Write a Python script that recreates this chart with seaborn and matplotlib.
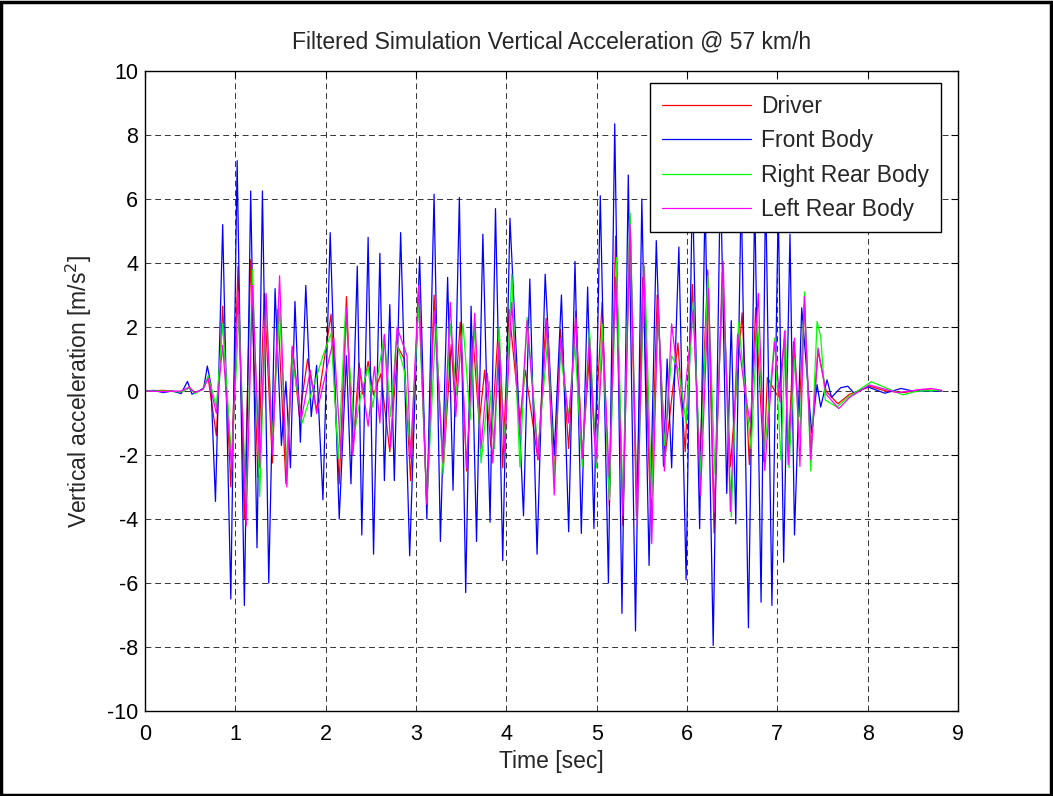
import numpy as np
import pandas as pd
import matplotlib
matplotlib.use("Agg")
import matplotlib.pyplot as plt
import seaborn as sns
from matplotlib.patches import Rectangle

# extremes (time [s], acceleration [m/s^2])
front_t = [0.00, 0.10, 0.20, 0.30, 0.40, 0.47, 0.52, 0.60, 0.65, 0.69, 0.73, 0.78, 0.86, 0.95,
           1.02, 1.10, 1.17, 1.24, 1.30, 1.37, 1.44, 1.51, 1.56, 1.61, 1.66, 1.72, 1.78, 1.84,
           1.90, 1.97, 2.05, 2.15, 2.23, 2.28, 2.35, 2.40, 2.47, 2.53, 2.60, 2.65, 2.71, 2.76,
           2.83, 2.93, 3.04, 3.12, 3.20, 3.27, 3.35, 3.41, 3.48, 3.55, 3.61, 3.67, 3.74, 3.82,
           3.88, 3.96, 4.04, 4.12, 4.19, 4.26, 4.34, 4.43, 4.53, 4.61, 4.69, 4.76, 4.83, 4.90,
           4.97, 5.04, 5.13, 5.20, 5.28, 5.35, 5.43, 5.50, 5.58, 5.66, 5.74, 5.78, 5.83, 5.91,
           5.99, 6.06, 6.14, 6.20, 6.29, 6.37, 6.44, 6.49, 6.54, 6.60, 6.68, 6.75, 6.82, 6.87,
           6.94, 7.01, 7.07, 7.14, 7.19, 7.27, 7.38, 7.44, 7.48, 7.55, 7.60, 7.70, 7.78, 7.85,
           8.00, 8.19, 8.37, 8.50, 8.82]
front_v = [0.0, 0.02, -0.05, 0.0, -0.08, 0.3, -0.1, 0.0, 0.1, 0.78, 0.2, -3.45, 5.2, -6.5,
           7.2, -6.7, 6.25, -4.9, 6.25, -6.0, 3.2, -1.7, 0.3, -2.4, 2.8, -1.6, 3.3, -0.8,
           0.8, -3.4, 4.95, -4.0, 1.1, -2.9, 3.9, -4.5, 4.8, -5.1, 4.3, -2.8, 2.7, -2.8,
           4.95, -5.15, 4.2, -4.0, 6.15, -4.7, 3.55, -3.1, 6.05, -6.3, 2.65, -4.7, 4.9, -4.1,
           5.7, -5.3, 5.4, 0.6, -3.9, 3.5, -5.1, 3.65, -2.0, 3.0, -4.4, 4.05, -4.45, 3.25,
           -4.3, 6.1, -6.0, 8.35, -6.95, 6.75, -7.5, 6.0, -5.45, 4.7, -2.35, 1.0, -2.4, 4.5,
           -5.9, 6.5, -4.3, 6.0, -7.95, 6.8, -3.2, 2.2, -4.15, 6.3, -7.4, 6.0, -6.6, 6.5,
           -6.7, 5.8, -5.35, 4.9, -4.5, 2.6, -1.3, 0.2, -0.5, 0.35, -0.2, 0.1, 0.15, -0.07,
           0.13, -0.07, 0.08, 0.0, 0.0]

driver_t = [0.00, 0.20, 0.40, 0.49, 0.55, 0.64, 0.70, 0.79, 0.86, 0.95, 1.03, 1.10, 1.17, 1.25,
            1.32, 1.41, 1.47, 1.56, 1.63, 1.71, 1.80, 1.90, 2.06, 2.15, 2.23, 2.30, 2.37, 2.41,
            2.47, 2.53, 2.61, 2.71, 2.80, 2.87, 2.94, 3.03, 3.12, 3.20, 3.30, 3.39, 3.43, 3.49,
            3.56, 3.63, 3.70, 3.76, 3.83, 3.91, 3.96, 4.03, 4.15, 4.21, 4.35, 4.44, 4.53, 4.60,
            4.69, 4.77, 4.84, 4.92, 4.98, 5.06, 5.14, 5.21, 5.29, 5.37, 5.44, 5.51, 5.60, 5.67,
            5.76, 5.90, 5.98, 6.06, 6.14, 6.23, 6.30, 6.39, 6.48, 6.61, 6.69, 6.76, 6.85, 6.89,
            7.01, 7.08, 7.12, 7.18, 7.24, 7.30, 7.37, 7.45, 7.54, 7.67, 7.80, 8.03, 8.20, 8.40,
            8.60, 8.82]
driver_v = [0.0, 0.02, -0.03, 0.1, -0.05, 0.05, 0.4, -1.4, 2.65, -3.0, 3.9, -4.0, 4.1, -2.7,
            3.05, -2.25, 2.55, -2.9, 1.37, -0.8, 1.0, -0.6, 2.4, -2.9, 2.95, -1.9, 0.87, -0.1,
            0.93, -0.13, 0.54, -1.9, 1.37, 1.0, -2.8, 3.27, -3.6, 3.0, -2.5, 1.45, -0.35, 2.15,
            -2.5, 1.7, -1.0, 0.65, -1.75, 1.9, -2.4, 2.55, -0.9, 0.65, -2.15, 2.27, -2.7, 1.93,
            -1.8, 2.5, -2.1, 1.1, -1.6, 2.77, -3.6, 4.84, -4.2, 5.45, -3.9, 3.55, -4.05, 3.0,
            -2.0, 1.5, -1.9, 3.33, -2.25, 3.78, -4.44, 3.72, -2.37, 2.44, -2.3, 2.6, -2.2, 0.42,
            -0.19, 1.65, -1.9, 1.54, -0.8, 2.7, -1.9, 1.25, 0.0, -0.4, -0.1, 0.14, 0.0, -0.05,
            0.05, 0.0]

right_rear_t = [0.00, 0.20, 0.40, 0.49, 0.55, 0.64, 0.70, 0.79, 0.86, 0.96, 1.04, 1.12, 1.19,
                1.27, 1.34, 1.41, 1.49, 1.57, 1.63, 1.74, 1.97, 2.06, 2.14, 2.22, 2.32, 2.39,
                2.47, 2.52, 2.65, 2.72, 2.78, 2.87, 2.94, 3.03, 3.12, 3.22, 3.30, 3.38, 3.45,
                3.52, 3.60, 3.65, 3.72, 3.81, 3.87, 3.92, 3.98, 4.06, 4.15, 4.23, 4.35, 4.46,
                4.53, 4.60, 4.69, 4.76, 4.84, 4.92, 5.00, 5.06, 5.14, 5.22, 5.29, 5.37, 5.45,
                5.53, 5.61, 5.68, 5.75, 5.83, 5.91, 5.99, 6.07, 6.15, 6.23, 6.31, 6.40, 6.49,
                6.57, 6.71, 6.78, 6.86, 6.97, 7.04, 7.09, 7.13, 7.19, 7.25, 7.30, 7.37, 7.44,
                7.48, 7.53, 7.66, 7.78, 8.04, 8.20, 8.39, 8.55, 8.82]
right_rear_v = [0.0, 0.0, -0.03, 0.1, -0.08, 0.05, 0.48, -0.5, 2.1, -2.2, 2.4, -3.6, 3.8,
                -3.3, 3.0, -1.6, 2.6, -2.4, 1.0, -1.0, 1.1, 1.8, -2.1, 2.5, -1.3, -0.1,
                0.75, -0.5, 1.75, -0.8, 1.55, 0.65, -2.0, 2.75, -3.5, 2.1, -2.6, 2.1, -0.13,
                2.1, -0.9, 2.1, -2.25, 0.3, -1.8, 2.0, -1.7, 3.66, -2.37, 2.3, -1.9, 1.65,
                -2.8, 1.2, -0.8, 1.43, -2.37, 1.93, -2.4, 2.1, -3.4, 4.17, -3.5, 5.56, -4.05,
                3.9, -3.37, 2.55, -1.7, 1.1, 0.65, -1.0, 2.77, -2.7, 3.6, -2.6, 3.66, -3.93,
                2.15, -1.8, 2.2, -1.9, 1.65, -2.15, 1.9, -2.4, 1.0, -1.5, 3.1, -2.5, 2.17,
                1.7, -0.28, -0.5, -0.2, 0.29, 0.1, -0.12, 0.0, 0.02]

left_rear_t = [0.00, 0.20, 0.40, 0.49, 0.55, 0.64, 0.70, 0.79, 0.86, 0.96, 1.03, 1.12, 1.19,
               1.27, 1.34, 1.41, 1.49, 1.57, 1.63, 1.73, 1.83, 1.90, 2.09, 2.17, 2.23, 2.30,
               2.38, 2.47, 2.54, 2.60, 2.65, 2.72, 2.79, 2.90, 2.94, 3.03, 3.12, 3.20, 3.30,
               3.38, 3.44, 3.50, 3.56, 3.65, 3.72, 3.79, 3.85, 3.92, 3.98, 4.06, 4.15, 4.23,
               4.35, 4.45, 4.53, 4.60, 4.69, 4.77, 4.84, 4.92, 4.99, 5.07, 5.14, 5.21, 5.29,
               5.37, 5.45, 5.52, 5.61, 5.68, 5.75, 5.83, 5.95, 6.07, 6.15, 6.24, 6.30, 6.40,
               6.48, 6.56, 6.64, 6.70, 6.79, 6.86, 6.97, 7.03, 7.08, 7.12, 7.19, 7.25, 7.30,
               7.37, 7.45, 7.54, 7.68, 7.80, 8.02, 8.20, 8.33, 8.60, 8.70, 8.82]
left_rear_v = [0.0, -0.02, 0.0, 0.12, -0.05, 0.05, 0.4, -0.7, 1.43, -2.5, 3.1, -4.2, 3.3,
               -2.4, 3.05, -2.0, 3.6, -3.0, 1.4, -0.9, 0.65, -0.7, 1.65, -2.1, 2.6, -2.0,
               0.7, -1.1, 0.76, -1.0, 1.77, -1.75, 2.0, 1.1, -2.1, 3.3, -3.55, 2.5, -2.25,
               2.77, -0.8, 1.65, -2.4, 2.43, -1.8, 0.55, -2.25, 1.55, -1.9, 2.77, -1.35, 2.2,
               -2.15, 2.2, -3.25, 1.65, -1.0, 2.3, -2.1, 1.65, -2.25, 1.55, -2.7, 3.55, -3.9,
               5.2, -4.2, 4.0, -4.77, 2.9, -2.5, 2.1, -0.8, 2.55, -3.26, 3.2, -3.8, 4.05,
               -3.77, 1.77, 0.0, -1.0, 3.05, -2.48, 1.54, -0.35, 1.87, -2.3, 1.65, -2.36, 2.95,
               -2.15, 1.35, -0.1, -0.55, -0.2, 0.19, 0.05, -0.05, 0.05, 0.08, 0.02]

series_names = ["Driver", "Front Body", "Right Rear Body", "Left Rear Body"]
series_colors = ["#ff0000", "#0000ff", "#00ff00", "#ff00ff"]

frames = []
for name, t, v in zip(series_names,
                      [driver_t, front_t, right_rear_t, left_rear_t],
                      [driver_v, front_v, right_rear_v, left_rear_v]):
    frames.append(pd.DataFrame({"time": t, "acc": v, "series": name}))
df = pd.concat(frames, ignore_index=True)

sns.set_style("white")
plt.rcParams["font.family"] = ["Liberation Sans", "DejaVu Sans"]
plt.rcParams["axes.unicode_minus"] = False

fig = plt.figure(figsize=(10.53, 7.96), dpi=100)
ax = fig.add_axes([145 / 1053, 85 / 796, 813 / 1053, 640 / 796])

# figure frame like the exported MATLAB window
fig.patches.append(Rectangle((0.001, 0.001), 0.997, 0.997, transform=fig.transFigure,
                             fill=False, edgecolor="black", linewidth=2.5))

for name, color in zip(series_names, series_colors):
    sub = df[df["series"] == name]
    sns.lineplot(data=sub, x="time", y="acc", ax=ax, color=color, linewidth=0.9,
                 sort=False, estimator=None, label=name)

ax.set_xlim(0, 9)
ax.set_ylim(-10, 10)
ax.set_xticks(range(0, 10))
ax.set_yticks(range(-10, 11, 2))
ax.grid(True, color="black", linestyle=(0, (6, 4)), linewidth=0.7, alpha=0.8)
for s in ax.spines.values():
    s.set_visible(True)
    s.set_color("black")
    s.set_linewidth(1.0)
ax.tick_params(direction="in", length=5, width=0.8, labelsize=15.5, top=True, right=True,
               colors="black", pad=5)
ax.tick_params(axis="x", pad=9)

ax.set_title("Filtered Simulation Vertical Acceleration @ 57 km/h", fontsize=16.5,
             y=1.036, pad=0)
ax.set_xlabel("Time [sec]", fontsize=16.5, labelpad=4)
ax.set_ylabel("Vertical acceleration [m/s$^2$]", fontsize=16.5, labelpad=9)

leg = ax.legend(loc="upper right", bbox_to_anchor=(0.979, 0.981), borderaxespad=0,
                fontsize=16.5, handlelength=3.9, handletextpad=0.45, frameon=True,
                fancybox=False, framealpha=1, edgecolor="black", labelspacing=0.5,
                borderpad=0.5)
leg.get_frame().set_linewidth(1.0)

fig.savefig("out.png", dpi=100)
